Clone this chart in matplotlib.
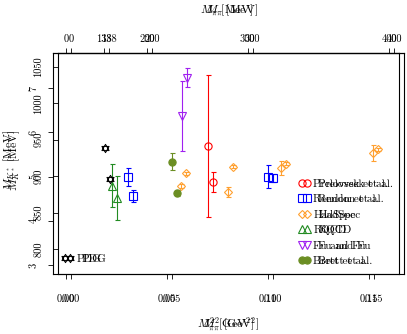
import matplotlib
matplotlib.use('Agg')
import matplotlib.pyplot as plt
from matplotlib.path import Path

plt.rcParams['font.family'] = 'cmr10'
plt.rcParams['mathtext.fontset'] = 'cm'
plt.rcParams['axes.unicode_minus'] = False

W, H = 407, 334

# ---- data: x = M_pi^2 [GeV^2] ----
pdg_x = [0.0193]
pdg_mass = [896.0]
pdg_g = [5.65]

prelovsek_x = [0.0703]
prelovsek_mass = [892.0]
prelovsek_mass_err = [14.0]
prelovsek_g = [5.69]
prelovsek_g_err = [1.6]

rendon_x = [0.0307, 0.100]
rendon_mass = [873.0, 897.0]
rendon_mass_err = [8.0, 5.5]
rendon_g = [4.99, 4.99]
rendon_g_err = [0.21, 0.26]

hadspec_x = [0.057, 0.080, 0.1064, 0.152]
hadspec_mass = [904.0, 913.0, 917.0, 937.0]
hadspec_mass_err = [2.0, 2.0, 2.0, 2.0]
hadspec_g = [4.79, 4.65, 5.19, 5.53]
hadspec_g_err = [0.05, 0.11, 0.15, 0.19]

rqcd_x = [0.0228]
rqcd_mass = [870.0]
rqcd_mass_err = [30.0]
rqcd_g = [4.79]
rqcd_g_err = [0.49]

fu_x = [0.0574]
fu_mass = [1035.0]
fu_mass_err = [13.0]
fu_g = [6.37]
fu_g_err = [0.79]

brett_x = [0.0525]
brett_mass = [877.0]
brett_mass_err = [4.0]
brett_g = [5.33]
brett_g_err = [0.19]

top_labels = ['0', '138', '200', '300', '400']   # M_pi [MeV]
mass_ticks = [800, 850, 900, 950, 1000, 1050]
g_ticks = [3, 4, 5, 6, 7]

# hexagram marker for PDG
hexa = Path([(0, 1), (-0.866, -0.5), (0.866, -0.5), (0, 1),
             (0, -1), (0.866, 0.5), (-0.866, 0.5), (0, -1)],
            [Path.MOVETO, Path.LINETO, Path.LINETO, Path.CLOSEPOLY,
             Path.MOVETO, Path.LINETO, Path.LINETO, Path.CLOSEPOLY])

series = [
    ('Prelovsek et al.', 'o', '#ff0000', 'none'),
    ('Rendon et al.', 's', '#0000ff', 'none'),
    ('HadSpec', 'D', '#ffa030', 'none'),
    ('RQCD', '^', '#228b22', 'none'),
    ('Fu and Fu', 'v', '#a020f0', 'none'),
    ('Brett et al.', 'o', '#6b8e23', 'full'),
]

fig = plt.figure(figsize=(W / 100, H / 100), dpi=100)

left, right, top, bottom = 53, 399, 53, 274


def px_rect(dx):
    return [(left + dx) / W, 1 - bottom / H, (right - left) / W, (bottom - top) / H]


def panel(dx, xs, ys, errs, px, py, ylim, yticks, yticklabels):
    ax = fig.add_axes(px_rect(dx))
    ax.patch.set_alpha(0)
    ax.set_xlim(-0.00644, 0.1649)
    ax.set_ylim(*ylim)
    handles = []
    for (name, mk, col, fill), x, y, e in zip(series, xs, ys, errs):
        ax.errorbar(x, y, yerr=e, fmt='none', ecolor=col, elinewidth=0.8,
                    capsize=1.8, capthick=0.8)
        ms = 4.0 if mk == 'D' else 5.2
        h, = ax.plot(x, y, linestyle='none', marker=mk, ms=ms, mew=0.8,
                     mec=col, mfc=(col if fill == 'full' else 'none'), label=name)
        handles.append(h)
    hp, = ax.plot(px, py, linestyle='none', marker=hexa, ms=6, mew=0.7,
                  mec='black', mfc='none', label='PDG')

    ax.set_xticks([0.0, 0.05, 0.10, 0.15], ['0.00', '0.05', '0.10', '0.15'])
    ax.set_yticks(yticks, yticklabels, rotation=90, va='center')
    ax.tick_params(direction='out', length=3.6, width=0.6, labelsize=7.5)
    ax.tick_params(axis='x', pad=11)
    ax.tick_params(axis='y', pad=7)
    for s in ax.spines.values():
        s.set_linewidth(0.8)

    sec = ax.secondary_xaxis('top')
    sec.set_xticks([0.0, 0.138 ** 2, 0.2 ** 2, 0.3 ** 2, 0.4 ** 2], top_labels)
    sec.tick_params(direction='out', length=3.6, width=0.6, labelsize=7.5, pad=3)

    leg = ax.legend(handles=handles, loc='upper left', bbox_to_anchor=(0.704, 0.43),
                    frameon=False, fontsize=8, handlelength=1.0, handletextpad=0.5,
                    labelspacing=0.5, borderpad=0, borderaxespad=0)
    ax.add_artist(leg)
    ax.legend(handles=[hp], loc='lower left', bbox_to_anchor=(0.019, 0.045),
              frameon=False, fontsize=8, handlelength=1.0, handletextpad=0.5,
              borderpad=0, borderaxespad=0)

    cx = (left + right) / 2 + dx
    fig.text(cx / W, 1 - 10 / H, r'$M_\pi$ [MeV]', ha='center', va='center', fontsize=8.5)
    fig.text(cx / W, 1 - 324 / H, r'$M_\pi^2$ [GeV$^2$]', ha='center', va='center', fontsize=8.5)
    fig.text((9 + dx) / W, 1 - 160 / H, r'$M_{K^*}$ [MeV]', ha='center', va='center',
             rotation=90, fontsize=8.5)
    return ax


# coupling panel
panel(0,
      [prelovsek_x, rendon_x, hadspec_x, rqcd_x, fu_x, brett_x],
      [prelovsek_g, rendon_g, hadspec_g, rqcd_g, fu_g, brett_g],
      [prelovsek_g_err, rendon_g_err, hadspec_g_err, rqcd_g_err, fu_g_err, brett_g_err],
      pdg_x, pdg_g, (2.797, 7.791), g_ticks, [str(t) for t in g_ticks])

# mass panel
panel(5,
      [prelovsek_x, rendon_x, hadspec_x, rqcd_x, fu_x, brett_x],
      [prelovsek_mass, rendon_mass, hadspec_mass, rqcd_mass, fu_mass, brett_mass],
      [prelovsek_mass_err, rendon_mass_err, hadspec_mass_err, rqcd_mass_err, fu_mass_err, brett_mass_err],
      pdg_x, pdg_mass, (765.7, 1069.2), mass_ticks, [str(t) for t in mass_ticks])

fig.savefig('out.png', dpi=100)
